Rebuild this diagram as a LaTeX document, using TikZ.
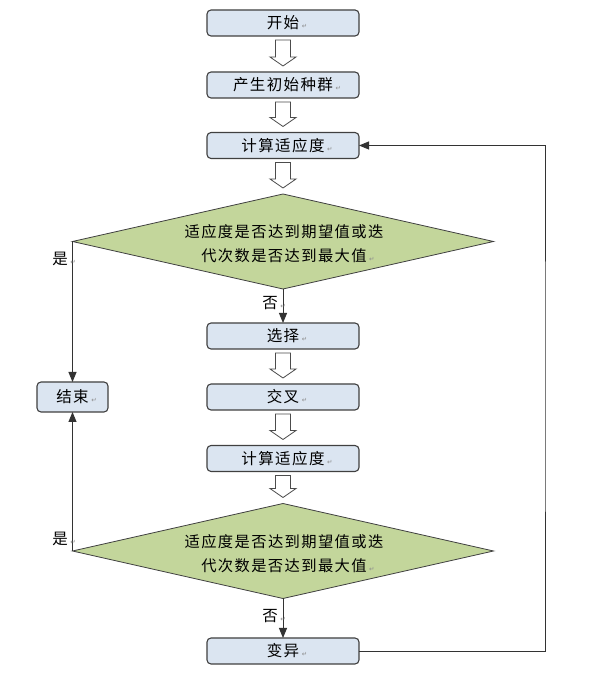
\documentclass[tikz,border=0pt]{standalone}
\usepackage{fontspec}
\usetikzlibrary{shapes.geometric,arrows.meta,calc}
\newfontfamily\cjk{Noto Sans CJK SC}[LetterSpace=9]
\newfontfamily\dejavu{DejaVu Sans}
\definecolor{boxfill}{HTML}{DBE5F1}
\definecolor{diafill}{HTML}{C3D69B}
\definecolor{edge}{HTML}{404040}
\newcommand\rmk{\rlap{\,{\dejavu\fontsize{6.5}{7}\selectfont\textcolor{black!45}{↵}}}}
\newcommand\harrow[2]{%
  \path (#1.south) ++(0,-4) coordinate (ha);
  \path (#2.north) ++(0,6) coordinate (hb);
  \draw[harr] ($(ha)+(-7.5,0)$) -- ($(hb)+(-7.5,9)$) -- ($(hb)+(-13,9)$) -- (hb)
     -- ($(hb)+(13,9)$) -- ($(hb)+(7.5,9)$) -- ($(ha)+(7.5,0)$) -- cycle;}
\tikzset{
  stepbox/.style={draw=edge, line width=1.1pt, fill=boxfill, rounded corners=4pt,
    minimum width=152pt, minimum height=26pt, inner sep=0pt, outer sep=0pt,
    font=\cjk\fontsize{15.5}{18}\selectfont},
  dia/.style={draw=edge, line width=0.8pt, fill=diafill, shape=diamond,
    minimum width=421pt, minimum height=95pt, inner sep=0pt, outer sep=0pt},
  dtext/.style={align=center, inner sep=0pt, font=\cjk\fontsize{15.3}{24}\selectfont},
  lbl/.style={inner sep=0pt, font=\cjk\fontsize{15.5}{18}\selectfont},
  conn/.style={draw=black!80, line width=0.9pt, -{Triangle[length=10pt,width=8pt]}},
  harr/.style={draw=black!70, line width=0.8pt, fill=white, line join=miter},
}
\begin{document}
\begin{tikzpicture}[x=1pt,y=1pt]
\useasboundingbox[fill=white] (0,0) rectangle (592,675);
\node[stepbox] (start) at (283,652) {开始\rmk};
\node[stepbox] (init) at (283,590) {产生初始种群\rmk};
\node[stepbox] (calc1) at (283,529.5) {计算适应度\rmk};
\node[dia] (d1) at (283,433.5) {};
\node[dtext] (t1) at (284,431) {适应度是否达到期望值或迭\\代次数是否达到最大值\rmk};
\node[stepbox] (sel) at (283,339) {选择\rmk};
\node[stepbox] (cross) at (283,278) {交叉\rmk};
\node[stepbox, minimum width=71pt, minimum height=30pt] (end) at (72.5,278) {结束\rmk};
\node[stepbox] (calc2) at (283,216.5) {计算适应度\rmk};
\node[dia] (d2) at (283,124) {};
\node[dtext] (t2) at (284,121.5) {适应度是否达到期望值或迭\\代次数是否达到最大值\rmk};
\node[stepbox] (mut) at (283,24) {变异\rmk};
\coordinate (fb) at (545,300);

\harrow{start}{init}
\harrow{init}{calc1}
\harrow{calc1}{d1}
\harrow{sel}{cross}
\harrow{cross}{calc2}
\harrow{calc2}{d2}

\draw[conn] (d1.west) -- (end.north);
\draw[conn] (d2.west) -- (end.south);
\draw[conn] (d1.south) -- (sel.north);
\draw[conn] (d2.south) -- (mut.north);
\draw[conn] (mut.east) -| (fb) |- (calc1.east);

\node[lbl] (yes1) at (60,416) {是\rmk};
\node[lbl] (yes2) at (60,136) {是\rmk};
\node[lbl] (no1) at (270,372) {否\rmk};
\node[lbl] (no2) at (270,59) {否\rmk};
\end{tikzpicture}
\end{document}
